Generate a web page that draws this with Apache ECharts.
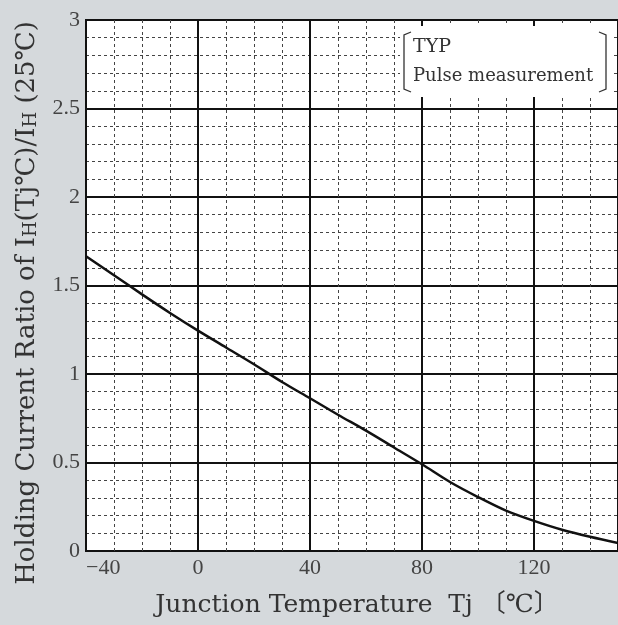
<!DOCTYPE html>
<html>
<head>
<meta charset="utf-8">
<script src="https://cdn.jsdelivr.net/npm/echarts@6/dist/echarts.min.js"></script>
<style>
  html, body { margin: 0; padding: 0; background: #d5d9dc; }
  #chart { width: 618px; height: 625px; }
</style>
</head>
<body>
<div id="chart"></div>
<script>
// junction temperature (deg C) and holding current ratio IH(Tj)/IH(25C)
var temps  = [-40, -30, -20, -10, 0, 10, 20, 30, 40, 50, 60, 70, 80, 90, 100, 110, 120, 130, 140, 150];
var ratios = [1.665, 1.558, 1.45, 1.345, 1.245, 1.15, 1.055, 0.955, 0.863, 0.77, 0.68, 0.585, 0.49, 0.39, 0.305, 0.228, 0.17, 0.12, 0.08, 0.045];
var xMajor = [-40, 0, 40, 80, 120];
var yMajor = [0, 0.5, 1, 1.5, 2, 2.5, 3];

var serif = '"DejaVu Serif", "Noto Sans CJK JP", serif';
var numFont = '"Liberation Serif", serif';

var pts = [];
for (var i = 0; i < temps.length; i++) {
    pts.push([temps[i], ratios[i]]);
}

var dom = document.getElementById('chart');
var myChart = echarts.init(dom);

var minorLine = {show: true, lineStyle: {color: '#444', width: 1, type: [3, 3]}};
var majorLine = {show: true, lineStyle: {color: '#111', width: 2}};

option = {
    backgroundColor: '#d5d9dc',
    animation: false,
    grid: {
        left: 86, right: 0, top: 20, bottom: 74,
        show: true, backgroundColor: '#fff', borderColor: '#111', borderWidth: 2
    },
    xAxis: [
        {   // minor grid every 10
            type: 'value', min: -40, max: 150, interval: 10,
            axisLine: {show: false}, axisTick: {show: false}, axisLabel: {show: false},
            splitLine: minorLine
        },
        {   // major grid + labels every 40
            type: 'value', min: -40, max: 150, interval: 40,
            position: 'bottom',
            axisLine: {show: false}, axisTick: {show: false},
            axisLabel: {
                margin: 6, fontFamily: numFont, fontSize: 22, color: '#444',
                alignMinLabel: 'left', showMaxLabel: false,
                formatter: function (v) {
                    if (xMajor.indexOf(v) < 0) return '';
                    return v < 0 ? '\u2212' + (-v) : '' + v;
                }
            },
            splitLine: majorLine
        }
    ],
    yAxis: [
        {
            type: 'value', min: 0, max: 3, interval: 0.1,
            axisLine: {show: false}, axisTick: {show: false}, axisLabel: {show: false},
            splitLine: minorLine
        },
        {
            type: 'value', min: 0, max: 3, interval: 0.5,
            position: 'left',
            axisLine: {show: false}, axisTick: {show: false},
            axisLabel: {
                margin: 6, fontFamily: numFont, fontSize: 22, color: '#444',
                formatter: function (v) { return yMajor.indexOf(v) < 0 ? '' : '' + v; }
            },
            splitLine: majorLine
        }
    ],
    series: [
        {
            type: 'line',
            xAxisIndex: 0, yAxisIndex: 0,
            data: pts,
            smooth: 0.3,
            symbol: 'none',
            lineStyle: {color: '#111', width: 2.5},
            z: 5
        }
    ],
    graphic: [
        // legend box
        {type: 'rect', z: 100, shape: {x: 400, y: 26, width: 212, height: 71}, style: {fill: '#fff'}},
        {type: 'polyline', z: 101, shape: {points: [[411, 32], [404, 35], [404, 89], [411, 92]]},
         style: {stroke: '#333', lineWidth: 1.3, fill: null}},
        {type: 'polyline', z: 101, shape: {points: [[599, 32], [606, 35], [606, 89], [599, 92]]},
         style: {stroke: '#333', lineWidth: 1.3, fill: null}},
        {type: 'text', z: 101, x: 413, y: 47,
         style: {text: 'TYP', font: '19px ' + serif, fill: '#333', verticalAlign: 'middle'}},
        {type: 'text', z: 101, x: 413, y: 76,
         style: {text: 'Pulse measurement', font: '18px ' + serif, fill: '#333', verticalAlign: 'middle'}},
        {   // y axis title
            type: 'text', x: 27, y: 303, rotation: Math.PI / 2, z: 100,
            style: {
                text: 'Holding Current Ratio of I{s|H}(Tj\u2103)/I{s|H} (25\u2103)',
                font: '26px ' + serif, fill: '#333',
                align: 'center', verticalAlign: 'middle',
                rich: {s: {fontSize: 18, fontFamily: serif, fill: '#333', verticalAlign: 'bottom'}}
            }
        },
        {   // x axis title
            type: 'text', x: 357, y: 605, z: 100,
            style: {
                text: 'Junction Temperature  Tj \u3014\u2103\u3015',
                font: '25px ' + serif, fill: '#333',
                align: 'center', verticalAlign: 'middle'
            }
        }
    ]
};
myChart.setOption(option, true);
</script>
</body>
</html>
